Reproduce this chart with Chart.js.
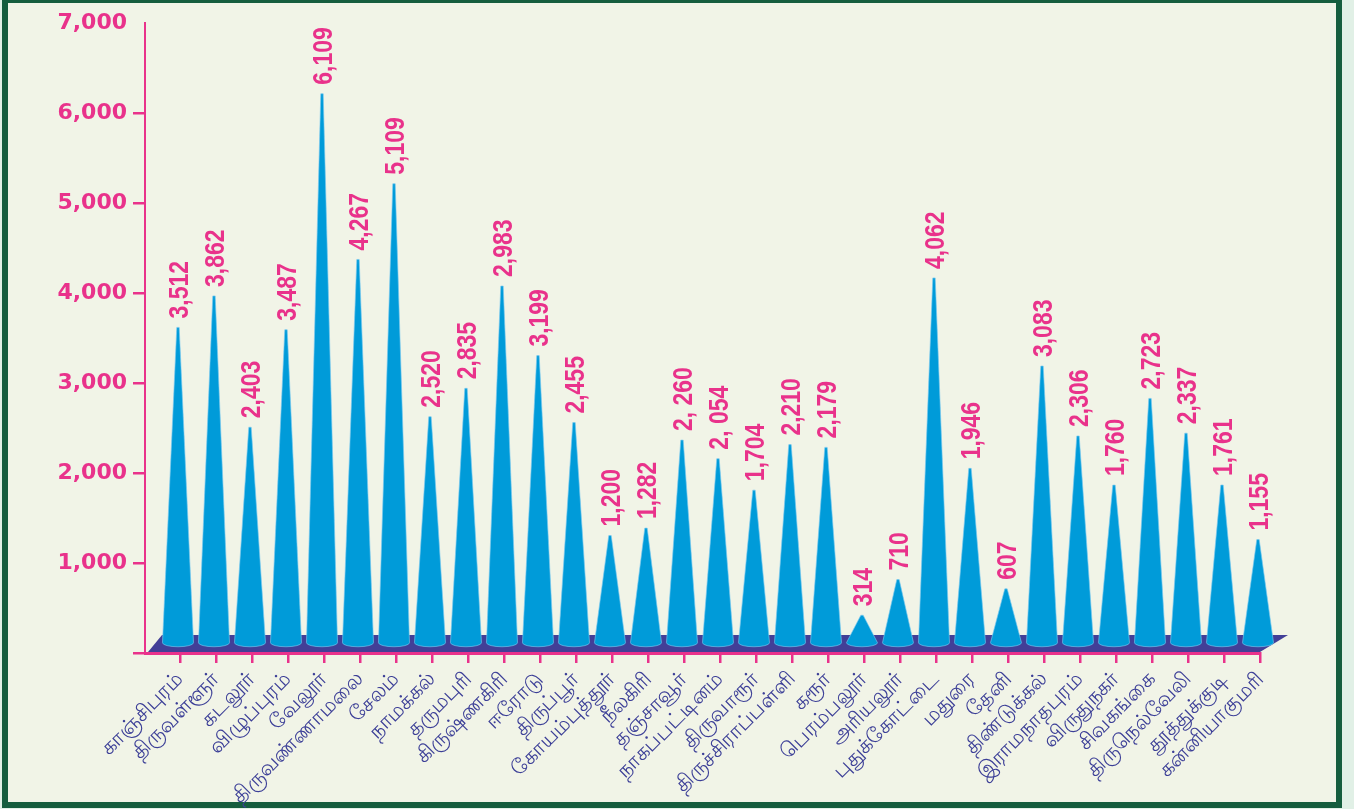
<!DOCTYPE html>
<html>
<head>
<meta charset="utf-8">
<script src="https://cdn.jsdelivr.net/npm/chart.js@4.4.1/dist/chart.umd.min.js"></script>
<style>
  html, body { margin: 0; padding: 0; background: #e1f0e6; }
  #frame { position: absolute; left: 2px; top: -3px; width: 1340px; height: 811px; box-sizing: border-box; border: 6px solid #155d3e; background: #f1f4e7; }
  #wrap { position: absolute; left: 0; top: 0; width: 1354px; height: 809px; }
</style>
</head>
<body>
<div id="frame"></div>
<div id="wrap"><canvas id="chart-districts"></canvas></div>
<script>
const districts = [
    'காஞ்சிபுரம்', 'திருவள்ளூர்', 'கடலூர்', 'விழுப்புரம்', 'வேலூர்', 'திருவண்ணாமலை',
    'சேலம்', 'நாமக்கல்', 'தருமபுரி', 'கிருஷ்ணகிரி', 'ஈரோடு', 'திருப்பூர்',
    'கோயம்புத்தூர்', 'நீலகிரி', 'தஞ்சாவூர்', 'நாகப்பட்டினம்', 'திருவாரூர்', 'திருச்சிராப்பள்ளி',
    'கரூர்', 'பெரம்பலூர்', 'அரியலூர்', 'புதுக்கோட்டை', 'மதுரை', 'தேனி',
    'திண்டுக்கல்', 'இராமநாதபுரம்', 'விருதுநகர்', 'சிவகங்கை', 'திருநெல்வேலி', 'தூத்துக்குடி',
    'கன்னியாகுமரி'
];

// cone heights as drawn (the Krishnagiri cone is drawn taller than its printed label)
const counts = [
    3512, 3862, 2403, 3487, 6109, 4267, 5109, 2520, 2835, 3972, 3199, 2455,
    1200, 1282, 2260, 2054, 1704, 2210, 2179, 314, 710, 4062, 1946, 607,
    3083, 2306, 1760, 2723, 2337, 1761, 1155
];

// value labels exactly as printed above the cones
const countLabels = [
    '3,512', '3,862', '2,403', '3,487', '6,109', '4,267', '5,109', '2,520', '2,835', '2,983', '3,199', '2,455',
    '1,200', '1,282', '2, 260', '2, 054', '1,704', '2,210', '2,179', '314', '710', '4,062', '1,946', '607',
    '3,083', '2,306', '1,760', '2,723', '2,337', '1,761', '1,155'
];

const yTicks = [0, 1000, 2000, 3000, 4000, 5000, 6000, 7000];

const pink = '#e9328b';
const coneBlue = '#009bd9';
const floorNavy = '#423f97';
const labelNavy = '#3c3f97';

const conePlugin = {
    id: 'cones',
    beforeDatasetsDraw(chart) {
        /*
         * 3D floor under the cones
         */
        const {ctx, scales: {x, y}} = chart;
        const front = y.getPixelForValue(0);
        ctx.save();
        ctx.fillStyle = floorNavy;
        ctx.beginPath();
        ctx.moveTo(x.left + 3, front - 1);
        ctx.lineTo(x.left + 17, front - 18);
        ctx.lineTo(x.right + 28, front - 18);
        ctx.lineTo(x.right, front - 1);
        ctx.closePath();
        ctx.fill();
        ctx.restore();
    },
    afterDatasetsDraw(chart) {
        const {ctx} = chart;
        const meta = chart.getDatasetMeta(0);
        ctx.save();
        meta.data.forEach((bar, i) => {
            const cx = bar.x - 2;
            const tip = bar.y - 9.5;
            const base = bar.base - 9;
            const half = 15.5;

            ctx.beginPath();
            ctx.moveTo(cx - 1.2, tip);
            ctx.lineTo(cx + 1.2, tip);
            ctx.lineTo(cx + half, base);
            ctx.ellipse(cx, base, half, 4, 0, 0, Math.PI);
            ctx.closePath();
            ctx.fillStyle = coneBlue;
            ctx.fill();
            ctx.strokeStyle = 'rgba(120, 200, 240, 0.8)';
            ctx.lineWidth = 0.8;
            ctx.stroke();

            // printed value, rotated and slightly condensed
            ctx.save();
            ctx.translate(cx + 1, tip - 9);
            ctx.rotate(-Math.PI / 2);
            ctx.scale(0.82, 1);
            ctx.fillStyle = pink;
            ctx.font = 'bold 28px "Liberation Sans", Arial, sans-serif';
            ctx.textAlign = 'left';
            ctx.textBaseline = 'middle';
            ctx.fillText(countLabels[i], 0, 1);
            ctx.restore();
        });
        ctx.restore();
    }
};

new Chart(document.getElementById('chart-districts'), {
    type: 'bar',
    data: {
        datasets: [{
            data: counts.map((value, i) => ({x: i, y: value})),
            backgroundColor: 'transparent',
            borderWidth: 0
        }]
    },
    options: {
        responsive: true,
        maintainAspectRatio: false,
        animation: false,
        layout: {
            padding: {left: 0, top: 23, right: 94, bottom: 0}
        },
        plugins: {
            legend: {display: false},
            tooltip: {enabled: false}
        },
        scales: {
            x: {
                type: 'linear',
                offset: false,
                min: -0.972,
                max: districts.length - 1,
                z: 1,
                afterBuildTicks: scale => {
                    scale.ticks = districts.map((name, i) => ({value: i}));
                },
                afterFit: scale => {
                    scale.height = 156;
                },
                border: {color: pink, width: 3},
                grid: {
                    offset: false,
                    drawOnChartArea: false,
                    color: pink,
                    lineWidth: 2.5,
                    tickLength: 10
                },
                ticks: {
                    autoSkip: false,
                    minRotation: 45,
                    maxRotation: 45,
                    padding: 4,
                    color: labelNavy,
                    font: {family: '"Noto Sans", sans-serif', size: 21},
                    callback: value => districts[value]
                }
            },
            y: {
                min: 0,
                max: 7000,
                z: 1,
                afterBuildTicks: scale => {
                    scale.ticks = yTicks.map(v => ({value: v}));
                },
                afterFit: scale => {
                    scale.width = 145;
                },
                border: {color: pink, width: 2},
                grid: {
                    drawOnChartArea: false,
                    color: ctx => ctx.tick && ctx.tick.value === 7000 ? 'transparent' : pink,
                    lineWidth: 2.5,
                    tickLength: 12
                },
                ticks: {
                    padding: 6,
                    color: pink,
                    font: {family: '"DejaVu Sans"', weight: 'bold', size: 22},
                    callback: value => value === 0 ? '' : value.toLocaleString('en-US')
                }
            }
        }
    },
    plugins: [conePlugin]
});
</script>
</body>
</html>
